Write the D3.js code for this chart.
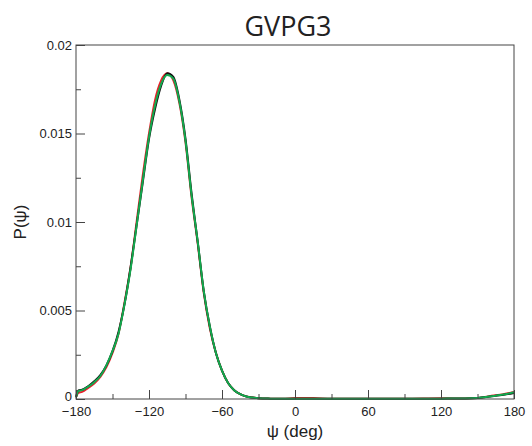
<!DOCTYPE html>
<html>
<head>
<meta charset="utf-8">
<script src="https://cdn.jsdelivr.net/npm/d3@7"></script>
<style>
  body { margin: 0; background: #fff; }
  text { font-family: "Liberation Sans", Arial, sans-serif; fill: #222; }
  .title { font-family: "Open Sans", "Noto Sans", sans-serif; }
</style>
</head>
<body>
<div id="chart"></div>
<script>
// psi grid (deg), denser around the peak
const psi = [-180, -178, -175, -170, -165, -160, -155, -150, -145, -140, -135, -130,
  -125, -120, -115, -110, -105, -100, -95, -90, -85, -80, -75, -70, -65, -60,
  -55, -50, -45, -40, -35, -30, -20, -10, 0, 15, 30, 60, 90, 120, 140, 150,
  155, 160, 165, 170, 175, 180];

// P(psi) for the three runs
const blackP = [0.0001, 0.00048, 0.00052, 0.00072, 0.001, 0.00135, 0.0019, 0.0027,
  0.0038, 0.0054, 0.0075, 0.0099, 0.0123, 0.0147, 0.0164, 0.0177, 0.0184, 0.0182,
  0.0169, 0.0147, 0.0116, 0.0089, 0.0061, 0.0041, 0.0026, 0.0016, 0.0009, 0.0005,
  0.00027, 0.00014, 0.00008, 0.00004, 0.00002, 0.00001, 0.00001, 0.00001, 0.00001,
  0.00001, 0.00001, 0.00002, 0.00003, 0.00006, 0.0001, 0.00014, 0.00018, 0.00023,
  0.00028, 0.00034];
const redP = [0.0001, 0.00035, 0.0004, 0.00062, 0.00088, 0.00125, 0.0018, 0.0026,
  0.0037, 0.0055, 0.0075, 0.0101, 0.0127, 0.015, 0.0169, 0.018, 0.0184, 0.018,
  0.0167, 0.0145, 0.0114, 0.0088, 0.006, 0.004, 0.0026, 0.0016, 0.0009, 0.0005,
  0.00028, 0.00015, 0.00008, 0.00004, 0.00002, 0.00001, 0.00005, 0.00005, 0.00001,
  0.00001, 0.00001, 0.00004, 0.00003, 0.00005, 0.0001, 0.00016, 0.00021, 0.00026,
  0.00032, 0.0004];
const greenP = [0.0001, 0.00045, 0.0005, 0.0007, 0.00095, 0.0013, 0.0019, 0.0027,
  0.0037, 0.0054, 0.0074, 0.0099, 0.0124, 0.0148, 0.0166, 0.0178, 0.0183, 0.0181,
  0.0168, 0.0146, 0.0115, 0.0089, 0.0061, 0.0041, 0.0026, 0.0016, 0.0009, 0.0005,
  0.00027, 0.00014, 0.00008, 0.00004, 0.00002, 0.00001, 0.00001, 0.00001, 0.00001,
  0.00001, 0.00001, 0.00002, 0.00003, 0.00006, 0.0001, 0.00014, 0.00019, 0.00024,
  0.0003, 0.00038];

const xTicks = [-180, -120, -60, 0, 60, 120, 180];
const xMinor = [-150, -90, -30, 30, 90, 150];
const yTicks = [0, 0.005, 0.01, 0.015, 0.02];
const yMinor = [0.0025, 0.0075, 0.0125, 0.0175];

const series = [
  { values: redP, color: "#e8202a" },
  { values: blackP, color: "#111" },
  { values: greenP, color: "#12a84e" },
];

const WIDTH = 532;
const HEIGHT = 446;
const margin = { top: 45, right: 18, bottom: 47, left: 76 };
const plotW = WIDTH - margin.left - margin.right;
const plotH = HEIGHT - margin.top - margin.bottom;

const svg = d3
  .select("#chart")
  .append("svg")
  .attr("width", WIDTH)
  .attr("height", HEIGHT);

const g = svg.append("g").attr("transform", `translate(${margin.left},${margin.top})`);

const x = d3.scaleLinear().domain([-180, 180]).range([0, plotW]);
const y = d3.scaleLinear().domain([0, 0.02]).range([plotH, 0]);

// curves
const line = d3
  .line()
  .x((d) => x(d[0]))
  .y((d) => y(d[1]))
  .curve(d3.curveMonotoneX);

series.forEach((s) => {
  g.append("path")
    .datum(psi.map((p, i) => [p, s.values[i]]))
    .attr("d", line)
    .attr("fill", "none")
    .attr("stroke", s.color)
    .attr("stroke-width", 2)
    .attr("stroke-linejoin", "round");
});

// frame
g.append("rect")
  .attr("width", plotW)
  .attr("height", plotH)
  .attr("fill", "none")
  .attr("stroke", "#444")
  .attr("stroke-width", 1);

// axes with inward ticks
function styleAxis(sel) {
  sel.select(".domain").remove();
  sel.selectAll(".tick line").attr("stroke", "#444");
  sel.selectAll("text").style("font-size", "13px").attr("fill", "#222");
}

g.append("g")
  .attr("transform", `translate(0,${plotH})`)
  .call(d3.axisBottom(x).tickValues(xTicks).tickSize(-9).tickPadding(8))
  .call(styleAxis);

g.append("g")
  .attr("transform", `translate(0,${plotH})`)
  .call(d3.axisBottom(x).tickValues(xMinor).tickSize(-5).tickFormat(""))
  .call(styleAxis);

const yAxis = g.append("g")
  .call(
    d3.axisLeft(y)
      .tickValues(yTicks)
      .tickSize(-9)
      .tickPadding(4)
      .tickFormat((d) => (d === 0 ? "0" : String(+d.toFixed(3))))
  )
  .call(styleAxis);

// nudge the "0" label up so it clears "-180"
yAxis.selectAll(".tick text").filter((d) => d === 0).attr("dy", "0.1em");

g.append("g")
  .call(d3.axisLeft(y).tickValues(yMinor).tickSize(-5).tickFormat(""))
  .call(styleAxis);

// labels
svg.append("text")
  .attr("class", "title")
  .attr("x", 288)
  .attr("y", 36)
  .attr("text-anchor", "middle")
  .style("font-size", "27px")
  .text("GVPG3");

svg.append("text")
  .attr("x", margin.left + plotW / 2)
  .attr("y", 437)
  .attr("text-anchor", "middle")
  .style("font-size", "17px")
  .text("ψ (deg)");

svg.append("text")
  .attr("transform", `translate(26,${margin.top + plotH / 2}) rotate(-90)`)
  .attr("text-anchor", "middle")
  .style("font-size", "17px")
  .text("P(ψ)");
</script>
</body>
</html>
